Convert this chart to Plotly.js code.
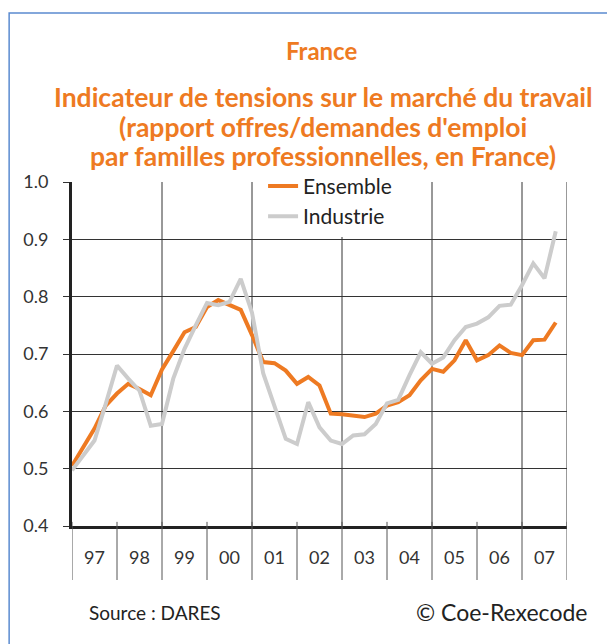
<!DOCTYPE html>
<html>
<head>
<meta charset="utf-8">
<script src="https://cdn.plot.ly/plotly-3.0.1.min.js"></script>
<style>
html,body{margin:0;padding:0;background:#fff;}
#chart{width:607px;height:644px;}
</style>
</head>
<body>
<div id="chart"></div>
<script>
// Quarterly periods
const quarters = [
 '1997T1','1997T2','1997T3','1997T4','1998T1','1998T2','1998T3','1998T4',
 '1999T1','1999T2','1999T3','1999T4','2000T1','2000T2','2000T3','2000T4',
 '2001T1','2001T2','2001T3','2001T4','2002T1','2002T2','2002T3','2002T4',
 '2003T1','2003T2','2003T3','2003T4','2004T1','2004T2','2004T3','2004T4',
 '2005T1','2005T2','2005T3','2005T4','2006T1','2006T2','2006T3','2006T4',
 '2007T1','2007T2','2007T3','2007T4'
];
const ensemble = [
 0.505,0.538,0.570,0.610,0.631,0.648,0.639,0.628,
 0.673,0.705,0.738,0.747,0.782,0.794,0.785,0.777,
 0.733,0.686,0.684,0.671,0.648,0.660,0.645,0.596,
 0.595,0.592,0.590,0.596,0.610,0.616,0.628,0.654,
 0.674,0.669,0.689,0.724,0.689,0.698,0.715,0.702,
 0.698,0.724,0.725,0.755
];
const industrie = [
 0.497,0.523,0.549,0.613,0.680,0.657,0.636,0.575,
 0.578,0.657,0.709,0.750,0.789,0.785,0.791,0.831,
 0.772,0.666,0.607,0.552,0.543,0.616,0.572,0.549,
 0.543,0.558,0.560,0.578,0.614,0.620,0.663,0.703,
 0.683,0.694,0.724,0.747,0.753,0.764,0.784,0.786,
 0.820,0.858,0.832,0.914
];
const years = [1997,1998,1999,2000,2001,2002,2003,2004,2005,2006,2007];
const yearLabels = ['97','98','99','00','01','02','03','04','05','06','07'];
const gridYears = [1999,2001,2003,2005,2007,2008];
const yTicks = [0.4,0.5,0.6,0.7,0.8,0.9,1.0];
const titleLines = [
 'Indicateur de tensions sur le marché du travail',
 '(rapport offres/demandes d\'emploi',
 'par familles professionnelles, en France)'
];

const xq = quarters.map(q => parseInt(q.slice(0,4)) + (parseInt(q.slice(5)) - 1) / 4);

const ORANGE = '#EE7A22';
const GRAY = '#CCCCCC';
const FONT = 'Lato, "Open Sans", sans-serif';

const traces = [
 {x: xq, y: ensemble, name: 'Ensemble', type: 'scatter', mode: 'lines',
  line: {color: ORANGE, width: 4}},
 {x: xq, y: industrie, name: 'Industrie', type: 'scatter', mode: 'lines',
  line: {color: GRAY, width: 4}}
];

const shapes = [];
gridYears.forEach(g => shapes.push({type:'line', xref:'x', yref:'paper', x0:g, x1:g, y0:0, y1:1,
  line:{color:'#333', width:1}, layer:'below'}));
years.concat([2008]).forEach(g => shapes.push({type:'line', xref:'x', yref:'paper', x0:g, x1:g, y0:0.012, y1:-0.157,
  line:{color:'#555', width:1}}));
shapes.push({type:'path', xref:'paper', yref:'paper',
  path:'M -0.127,-0.35 L -0.127,1.491 L 1.2,1.491', line:{color:'#5B8BD0', width:1.5}});

const annotations = [
 {text: '<b>France</b>', xref: 'paper', yref: 'paper', x: (321-72)/495, y: (526-50)/344,
  xanchor: 'center', yanchor: 'middle', showarrow: false,
  font: {size: 24, color: ORANGE, family: FONT}}
];
const lineY = [97, 127, 156];
titleLines.forEach((t, i) => annotations.push({
  text: '<b>' + t + '</b>', xref: 'paper', yref: 'paper', x: (323-72)/495, y: (526-lineY[i])/344,
  xanchor: 'center', yanchor: 'middle', showarrow: false,
  font: {size: 26.5, color: ORANGE, family: FONT}}));
annotations.push(
 {text: 'Source : DARES', xref: 'paper', yref: 'paper', x: (87-72)/495, y: (526-612)/344,
  xanchor: 'left', yanchor: 'middle', showarrow: false,
  font: {size: 19, color: '#222', family: FONT}},
 {text: '© Coe-Rexecode', xref: 'paper', yref: 'paper', x: (589-72)/495, y: (526-612)/344,
  xanchor: 'right', yanchor: 'middle', showarrow: false,
  font: {size: 23, color: '#222', family: FONT}});

const layout = {
 width: 607, height: 644,
 margin: {l: 72, r: 40, t: 182, b: 118},
 paper_bgcolor: '#fff', plot_bgcolor: '#fff',
 font: {family: FONT, color: '#333', size: 18},
 showlegend: true,
 legend: {x: 0.386, y: 1.047, xanchor: 'left', yanchor: 'top', bgcolor: '#fff',
   font: {size: 21, color: '#222', family: FONT}, borderwidth: 0, tracegroupgap: 0},
 xaxis: {range: [1997, 2008], tickmode: 'array',
   tickvals: years.map(y => y + 0.5), ticktext: yearLabels,
   showgrid: false, zeroline: false, showline: true, linewidth: 3, linecolor: '#222',
   ticks: 'outside', ticklen: 13, tickcolor: 'rgba(0,0,0,0)',
   tickfont: {size: 18, color: '#333'}, fixedrange: true},
 yaxis: {range: [0.4, 1.0], tickmode: 'array', tickvals: yTicks,
   ticktext: yTicks.map(v => v.toFixed(1)),
   showgrid: true, gridcolor: '#333', gridwidth: 1, zeroline: false,
   showline: true, linewidth: 3, linecolor: '#222',
   ticks: 'outside', ticklen: 6, tickcolor: '#333', tickwidth: 1,
   ticklabelstandoff: 11,
   tickfont: {size: 18, color: '#333'}, fixedrange: true},
 shapes: shapes,
 annotations: annotations
};

Plotly.newPlot('chart', traces, layout, {displayModeBar: false, staticPlot: true});
</script>
</body>
</html>
